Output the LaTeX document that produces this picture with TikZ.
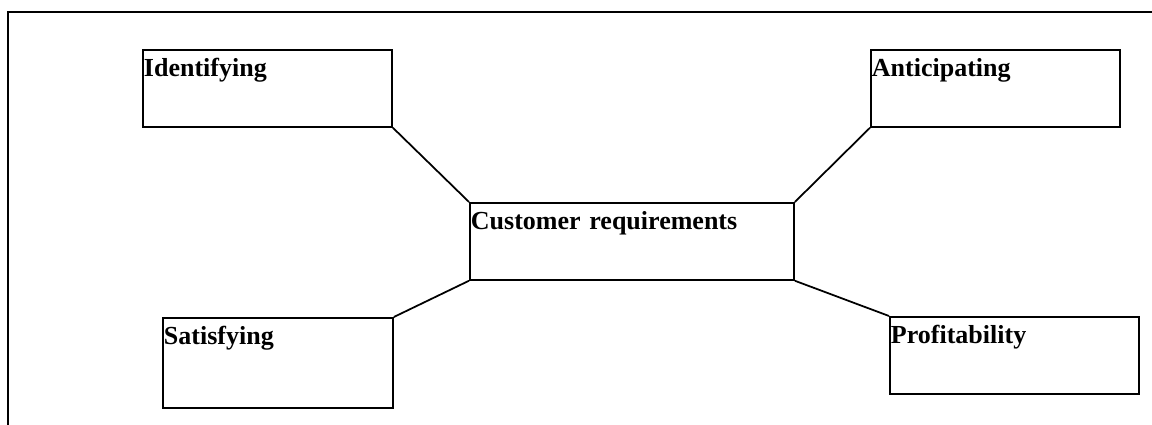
\documentclass[tikz,border=0pt]{standalone}
\usepackage{fontspec}
\setmainfont{Liberation Serif}

\begin{document}
\begin{tikzpicture}[
        box/.style={draw,line width=1pt,anchor=north west,inner xsep=0.6pt,inner ysep=0pt,
            align=left,text height=0.54cm,font=\fontsize{14.8pt}{17pt}\selectfont\bfseries},
        link/.style={line width=1pt}]
            \useasboundingbox (0,0) rectangle (23.04,8.5);
            % frame round the diagram
            \draw[line width=1pt] (23.04,8.26) -- (0.16,8.26) -- (0.16,0);

            \node (id) at (2.84,7.52) [box,text width=4.94cm,text depth=1cm] {Identifying};
            \node (an) at (17.4,7.52) [box,text width=4.94cm,text depth=1cm] {Anticipating};
            \node (sa) at (3.24,2.16) [box,text width=4.56cm,text depth=1.26cm] {Satisfying};
            \node (pr) at (17.78,2.18) [box,text width=4.94cm,text depth=1cm] {Profitability};
            \node (cr) at (9.38,4.46) [box,text width=6.44cm,text depth=1cm] {Customer requirements};

            \draw[link] (id.south east) -- (cr.north west);
            \draw[link] (an.south west) -- (cr.north east);
            \draw[link] (sa.north east) -- (cr.south west);
            \draw[link] (pr.north west) -- (cr.south east);
        \end{tikzpicture}
\end{document}
